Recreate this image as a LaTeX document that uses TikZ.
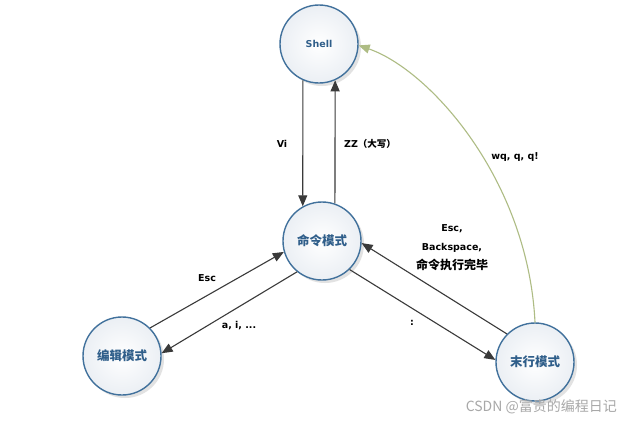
\documentclass[tikz,border=0pt]{standalone}
\usepackage{fontspec}
\setmainfont{DejaVu Sans}
\newfontfamily\cjk{Noto Sans CJK SC}
\usetikzlibrary{arrows.meta,shadows}
\definecolor{ring}{HTML}{41719C}
\definecolor{ntext}{HTML}{2F5E8A}
\definecolor{fillb}{HTML}{EBEFF4}
\definecolor{arrowc}{HTML}{3A3A3A}
\definecolor{curvegreen}{HTML}{AEBC84}
\definecolor{wmc}{HTML}{A8A8A8}
\begin{document}
\begin{tikzpicture}[x=1pt,y=-1pt,
  state/.style={circle, draw=ring, line width=1.4pt, minimum size=78pt, inner sep=0pt,
    inner color=white, outer color=fillb, text=ntext,
    drop shadow={shadow xshift=3pt,shadow yshift=-3pt,fill=black!25,opacity=0.45}},
  cjkstate/.style={state, font=\cjk\bfseries\fontsize{12.5}{14}\selectfont},
  conn/.style={draw=arrowc, line width=1.1pt, -{Triangle[length=11pt,width=9pt]}},
  lab/.style={font=\bfseries\fontsize{9.5}{11}\selectfont, text=black, inner sep=0pt},
  cjklab/.style={font=\cjk\bfseries\fontsize{12}{13}\selectfont, text=black, inner sep=0pt}]
\fill[white] (0,0) rectangle (628,424);
\useasboundingbox (0,0) rectangle (628,424);

\node[state, font=\bfseries\fontsize{9.5}{11}\selectfont] (shell) at (319,44) {Shell};
\node[cjkstate] (cmd) at (322,241) {命令模式};
\node[cjkstate] (edit) at (122,356) {编辑模式};
\node[cjkstate] (last) at (535,362) {末行模式};

\draw[conn] (shell.246) -- (cmd.119);
\draw[conn] (cmd.71) -- (shell.294);
\draw[conn] (edit.45) -- (cmd.196);
\draw[conn] (cmd.231) -- (edit.4);
\draw[conn] (cmd.314) -- (last.177);
\draw[conn] (last.135) -- (cmd.357);
\draw[conn, draw=curvegreen, line width=1.1pt] (last.90) .. controls (528,180) and (430,70) .. (shell.358);

\node[lab] (lvi) at (282,144) {Vi};
\node[lab] (lzz) at (370,144) {ZZ{\cjk （大写）}};
\node[lab] (lesc) at (207,278) {Esc};
\node[lab] (lai) at (239,326) {a, i, ...};
\node[lab] (lcolon) at (412,323) {:};
\node[lab] (lb1) at (452,229) {Esc,};
\node[lab] (lb2) at (452,248) {Backspace,};
\node[cjklab] (lb3) at (452,265) {命令执行完毕};
\node[lab] (lwq) at (515,157) {wq, q, q!};

\node[font=\cjk\fontsize{14}{15}\selectfont, text=wmc, anchor=east, inner sep=0pt] (wm) at (617,407) {CSDN @富贵的编程日记};
\end{tikzpicture}
\end{document}
